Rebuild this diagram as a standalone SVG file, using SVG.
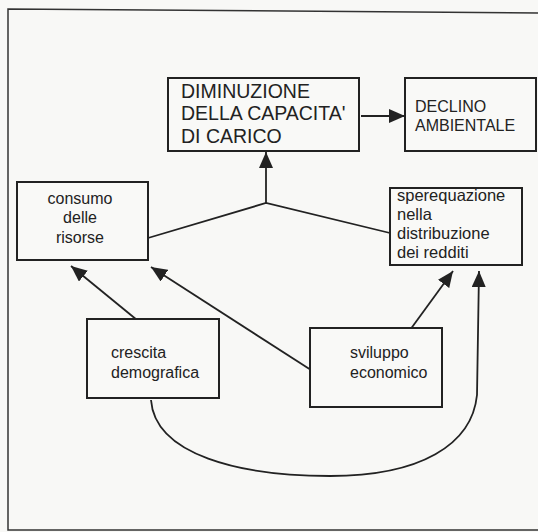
<svg xmlns="http://www.w3.org/2000/svg" width="538" height="532" viewBox="0 0 538 532">
<style>
.bx{fill:#f9f9f7;stroke:#222;stroke-width:2}
.t{font-family:"Liberation Sans",Arial,sans-serif;fill:#222}
.c{fill:none;stroke:#222;stroke-width:1.8}
</style>
<defs>
<marker id="ah" markerUnits="userSpaceOnUse" markerWidth="18" markerHeight="14" refX="16" refY="7" orient="auto">
<path d="M0,0 L16,7 L0,14 Z" fill="#222"/>
</marker>
</defs>
<rect width="538" height="532" fill="#f8f8f6"/>
<path d="M538 13 L8 9 L8 530 L538 530" fill="none" stroke="#333" stroke-width="1.5"/>
<g id="connectors">
<line class="c" x1="361" y1="116" x2="405" y2="116" marker-end="url(#ah)"/>
<line class="c" x1="266" y1="203" x2="266" y2="152" marker-end="url(#ah)"/>
<polyline class="c" points="148,238 266,203 390,233"/>
<line class="c" x1="137" y1="320" x2="71" y2="266" marker-end="url(#ah)"/>
<line class="c" x1="311" y1="370" x2="151" y2="267" marker-end="url(#ah)"/>
<line class="c" x1="410" y1="330" x2="453" y2="271" marker-end="url(#ah)"/>
<path class="c" d="M151 400 C155 455 240 476 330 476 C420 476 472 445 477 395 L479 271" marker-end="url(#ah)"/>
</g>
<g id="diminuzione">
<rect class="bx" x="168" y="78" width="191" height="73"/>
<text class="t" font-size="19.5"><tspan x="181" y="98">DIMINUZIONE</tspan><tspan x="181" y="120">DELLA CAPACITA'</tspan><tspan x="181" y="143">DI CARICO</tspan></text>
</g>
<g id="declino">
<rect class="bx" x="405" y="78" width="131" height="73"/>
<text class="t" font-size="16"><tspan x="415" y="112">DECLINO</tspan><tspan x="415" y="131">AMBIENTALE</tspan></text>
</g>
<g id="consumo">
<rect class="bx" x="17" y="182" width="131" height="78"/>
<text class="t" font-size="16" text-anchor="middle"><tspan x="80" y="204">consumo</tspan><tspan x="80" y="223">delle</tspan><tspan x="80" y="243">risorse</tspan></text>
</g>
<g id="sperequazione">
<rect class="bx" x="390" y="188" width="132" height="77"/>
<text class="t" font-size="16.5"><tspan x="397" y="201">sperequazione</tspan><tspan x="397" y="220">nella</tspan><tspan x="397" y="239">distribuzione</tspan><tspan x="397" y="258">dei redditi</tspan></text>
</g>
<g id="crescita">
<rect class="bx" x="87" y="319" width="132" height="79"/>
<text class="t" font-size="16"><tspan x="111" y="358">crescita</tspan><tspan x="111" y="378">demografica</tspan></text>
</g>
<g id="sviluppo">
<rect class="bx" x="310" y="328" width="132" height="79"/>
<text class="t" font-size="16"><tspan x="350" y="358">sviluppo</tspan><tspan x="350" y="378">economico</tspan></text>
</g>
</svg>
